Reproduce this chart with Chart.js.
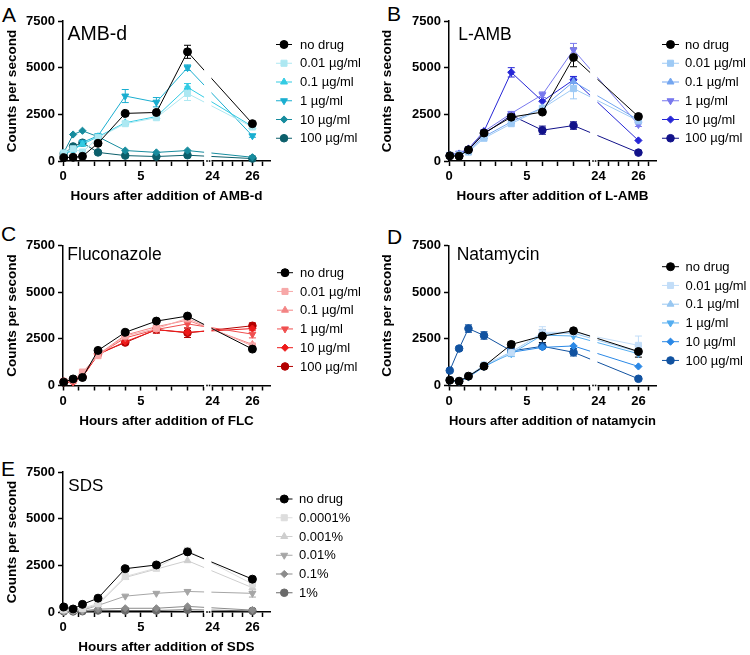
<!DOCTYPE html>
<html>
<head>
<meta charset="utf-8">
<script src="https://cdn.jsdelivr.net/npm/chart.js@4.4.1/dist/chart.umd.min.js"></script>
<style>
  body { margin: 0; background: #fff; width: 750px; height: 655px; position: relative; overflow: hidden;
         font-family: "Liberation Sans", Arial, sans-serif; }
  canvas { position: absolute; }
  .tag { position: absolute; font-size: 21px; line-height: 21px; color: #000; }
</style>
</head>
<body>
<div class="tag" style="left:2px;top:4px">A</div>
<div class="tag" style="left:387px;top:2.5px">B</div>
<div class="tag" style="left:1px;top:222.5px">C</div>
<div class="tag" style="left:387px;top:225.5px">D</div>
<div class="tag" style="left:1px;top:457.5px">E</div>

<canvas id="cE" width="375" height="235" style="left:0;top:420px"></canvas>
<canvas id="cA" width="375" height="210" style="left:0;top:0"></canvas>
<canvas id="cB" width="375" height="210" style="left:375px;top:0"></canvas>
<canvas id="cC" width="375" height="225" style="left:0;top:210px"></canvas>
<canvas id="cD" width="375" height="225" style="left:375px;top:210px"></canvas>

<script>
// ---- data ----
// sampling times in hours (same for every panel)
const hours = [0.05, 0.65, 1.25, 2.25, 4, 6, 8, 26];
const concLabels = ['no drug', '0.01 µg/ml', '0.1 µg/ml', '1 µg/ml', '10 µg/ml', '100 µg/ml'];
const sdsLabels = ['no drug', '0.0001%', '0.001%', '0.01%', '0.1%', '1%'];
const yTicks = [0, 2500, 5000, 7500];
const xTickHours = [0, 5, 24, 26];   // labelled ticks
const xMinorHours = [1, 2, 3, 4, 6, 7, 8, 9, 24.5, 25, 25.5, 26.5];

// counts per second, one row per series (no drug, then increasing dose)
const ambdValues = [
  [180, 200, 250, 950, 2550, 2600, 5850, 2000],
  [430, 650, 480, 1250, 2000, 2320, 3620, 1820],
  [400, 600, 900, 1300, 2050, 2380, 3950, 1850],
  [400, 550, 1000, 1350, 3480, 3150, 5000, 1350],
  [450, 1420, 1620, 1300, 560, 460, 560, 200],
  [380, 780, 980, 460, 290, 240, 310, 130]
];
const ambdSd = [
  [0, 0, 0, 80, 0, 0, 350, 80],
  [0, 0, 0, 0, 120, 100, 380, 100],
  [0, 0, 0, 0, 0, 0, 200, 0],
  [0, 0, 0, 0, 350, 250, 150, 80],
  [0, 0, 0, 0, 0, 0, 0, 0],
  [0, 0, 0, 0, 0, 0, 0, 0]
];

const lambValues = [
  [280, 260, 600, 1500, 2350, 2620, 5550, 2380],
  [300, 330, 480, 1220, 2000, 2820, 3880, 2150],
  [320, 350, 560, 1300, 2100, 2850, 4250, 2200],
  [350, 420, 650, 1580, 2550, 3550, 5950, 1950],
  [320, 400, 650, 1600, 4750, 3200, 4350, 1100],
  [280, 280, 600, 1450, 2450, 1650, 1900, 450]
];
const lambSd = [
  [0, 0, 0, 0, 0, 0, 500, 0],
  [0, 0, 0, 0, 0, 0, 550, 0],
  [0, 0, 0, 0, 0, 0, 250, 0],
  [0, 0, 0, 0, 0, 150, 350, 100],
  [0, 0, 0, 0, 250, 0, 180, 0],
  [0, 0, 0, 0, 0, 220, 200, 0]
];

const flcValues = [
  [180, 350, 430, 1880, 2850, 3450, 3720, 1950],
  [220, 300, 720, 1600, 2650, 3050, 3600, 2120],
  [180, 250, 620, 1650, 2700, 3150, 3500, 2200],
  [150, 180, 520, 1650, 2550, 3000, 3300, 2750],
  [180, 220, 460, 1650, 2350, 2980, 2850, 3050],
  [200, 260, 450, 1700, 2300, 3000, 2820, 3200]
];
const flcSd = [
  [0, 0, 0, 0, 0, 0, 0, 0],
  [0, 0, 0, 0, 0, 0, 100, 0],
  [0, 0, 0, 0, 0, 0, 0, 0],
  [0, 0, 0, 0, 0, 150, 200, 200],
  [0, 0, 0, 0, 0, 0, 0, 0],
  [0, 0, 0, 0, 0, 200, 250, 150]
];

const natValues = [
  [280, 230, 500, 1030, 2200, 2650, 2930, 1820],
  [300, 250, 520, 1100, 1750, 2850, 2850, 2150],
  [280, 230, 500, 1080, 1800, 2800, 2800, 1800],
  [270, 220, 480, 1050, 1700, 2700, 2650, 1700],
  [250, 200, 450, 1000, 1780, 2040, 2120, 1020],
  [800, 1980, 3050, 2680, 1850, 2100, 1780, 360]
];
const natSd = [
  [0, 0, 0, 0, 150, 350, 0, 300],
  [0, 0, 0, 0, 0, 300, 200, 500],
  [0, 0, 0, 0, 0, 0, 0, 0],
  [0, 0, 0, 0, 150, 0, 0, 0],
  [0, 0, 0, 0, 0, 0, 0, 0],
  [0, 100, 200, 200, 0, 0, 200, 0]
];

const sdsValues = [
  [270, 160, 410, 740, 2320, 2520, 3220, 1760],
  [120, 120, 200, 450, 1900, 2350, 3300, 1500],
  [80, 100, 150, 400, 1850, 2300, 2750, 1300],
  [50, 80, 100, 350, 850, 1000, 1100, 1000],
  [30, 50, 60, 150, 200, 200, 300, 100],
  [30, 30, 40, 80, 80, 80, 120, 60]
];
const sdsSd = [
  [0, 0, 0, 0, 0, 0, 0, 0],
  [0, 0, 0, 0, 0, 0, 150, 400],
  [0, 0, 0, 0, 0, 0, 0, 200],
  [0, 0, 0, 0, 0, 0, 0, 200],
  [0, 0, 0, 0, 0, 0, 0, 0],
  [0, 0, 0, 0, 0, 0, 0, 0]
];

// ---- styles ----
const ambdColors = ['#000000', '#ade8f2', '#33cbe3', '#1aaed0', '#178c9e', '#0c5f6b'];
const lambColors = ['#000000', '#9ecaf5', '#74a6f0', '#7878ee', '#2626d6', '#12128a'];
const flcColors  = ['#000000', '#f7a8a8', '#f38484', '#f04f4f', '#ee1a1a', '#b30000'];
const natColors  = ['#000000', '#c2ddf8', '#98c7f1', '#55aef0', '#2a88e6', '#1152a0'];
const sdsColors  = ['#000000', '#dddddd', '#cecece', '#a6a6a6', '#8b8b8b', '#6a6a6a'];
const markers = [
  {style: 'circle', rot: 0, r: 4},
  {style: 'rect', rot: 0, r: 4.3},
  {style: 'triangle', rot: 0, r: 4},
  {style: 'triangle', rot: 180, r: 4},
  {style: 'rectRot', rot: 0, r: 3.6},
  {style: 'circle', rot: 0, r: 3.8}
];

// x axis has a break between 9 h and 24 h
const BREAK_AT = 9, RESUME = 24, GAP_POS = 9.6, RIGHT_K = 1.285, X_END = 13.3;
function toAxis(h) { return h <= BREAK_AT ? h : GAP_POS + (h - RESUME) * RIGHT_K; }

const FONT = '"Liberation Sans", Arial, sans-serif';
Chart.defaults.font.family = FONT;
Chart.defaults.color = '#000';

// error bars under the markers
const errorBars = {
  id: 'errorBars',
  beforeDatasetsDraw(chart) {
    const ctx = chart.ctx, xs = chart.scales.x, ys = chart.scales.y;
    ctx.save();
    chart.data.datasets.forEach(ds => {
      ctx.strokeStyle = ds.borderColor;
      ctx.lineWidth = 1;
      ds.sd.forEach((e, i) => {
        if (!e) return;
        const x = xs.getPixelForValue(toAxis(hours[i]));
        const y1 = ys.getPixelForValue(ds.data[i].y + e), y2 = ys.getPixelForValue(ds.data[i].y - e);
        ctx.beginPath();
        ctx.moveTo(x, y1); ctx.lineTo(x, y2);
        ctx.moveTo(x - 3.5, y1); ctx.lineTo(x + 3.5, y1);
        ctx.moveTo(x - 3.5, y2); ctx.lineTo(x + 3.5, y2);
        ctx.stroke();
      });
    });
    ctx.restore();
  }
};

// axis break, panel title and legend
const decorations = {
  id: 'decorations',
  afterDatasetsDraw(chart, args, opts) {
    const ctx = chart.ctx, xs = chart.scales.x, ys = chart.scales.y;
    const y0 = ys.getPixelForValue(0);
    const a = xs.getPixelForValue(BREAK_AT) + 1, b = xs.getPixelForValue(GAP_POS) - 1;
    ctx.save();
    ctx.fillStyle = '#fff';
    ctx.fillRect(a, chart.chartArea.top - 12, b - a, y0 + 1.6 - (chart.chartArea.top - 12));
    ctx.fillStyle = '#000';
    [0.4, 0.75].forEach(f => ctx.fillRect(a + (b - a) * f - 0.8, y0 - 0.8, 1.6, 1.6));

    ctx.font = opts.titleSize + 'px ' + FONT;
    ctx.textBaseline = 'alphabetic';
    ctx.fillText(opts.title, opts.titleX, opts.titleY);

    const lg = opts.legend;
    ctx.font = '13px ' + FONT;
    ctx.textBaseline = 'middle';
    chart.data.datasets.forEach((ds, i) => {
      const y = lg.top + i * 18.75;
      ctx.strokeStyle = ds.borderColor;
      ctx.fillStyle = ds.borderColor;
      ctx.lineWidth = 1;
      ctx.beginPath(); ctx.moveTo(lg.x0, y); ctx.lineTo(lg.x1, y); ctx.stroke();
      Chart.helpers.drawPoint(ctx, {pointStyle: ds.pointStyle, rotation: ds.pointRotation,
        radius: ds.pointRadius, borderWidth: 1}, (lg.x0 + lg.x1) / 2, y);
      ctx.fillStyle = '#000';
      ctx.fillText(ds.label, lg.tx, y + 0.5);
    });
    ctx.restore();
  }
};

const panels = [
  {id: 'cA', w: 375, h: 210, area: [63, 21, 270, 161], title: 'AMB-d', tx: 67.5, ty: 39.5, ts: 19.5,
   xTitle: 'Hours after addition of AMB-d', values: ambdValues, sd: ambdSd, colors: ambdColors,
   labels: concLabels, legend: {x0: 276, x1: 292, tx: 300, top: 44.5}, xtPad: 6},
  {id: 'cB', w: 375, h: 210, area: [74, 21, 281, 161], title: 'L-AMB', tx: 83.3, ty: 39.5, ts: 17.5,
   xTitle: 'Hours after addition of L-AMB', values: lambValues, sd: lambSd, colors: lambColors,
   labels: concLabels, legend: {x0: 287, x1: 304, tx: 310, top: 44.5}, xtPad: 6},
  {id: 'cC', w: 375, h: 225, area: [63, 35.5, 270, 175.5], title: 'Fluconazole', tx: 67.3, ty: 50, ts: 17.5,
   xTitle: 'Hours after addition of FLC', values: flcValues, sd: flcSd, colors: flcColors,
   labels: concLabels, legend: {x0: 277, x1: 293, tx: 300, top: 62.7}, xtPad: 6},
  {id: 'cD', w: 375, h: 225, area: [74, 35.5, 281, 175.5], title: 'Natamycin', tx: 81.7, ty: 50, ts: 17.5,
   xTitle: 'Hours after addition of natamycin', values: natValues, sd: natSd, colors: natColors,
   labels: concLabels, legend: {x0: 287, x1: 304, tx: 310.5, top: 56.7}, xtPad: 6},
  {id: 'cE', w: 375, h: 235, area: [63, 52, 270, 192], title: 'SDS', tx: 68.3, ty: 70.7, ts: 17,
   xTitle: 'Hours after addition of SDS', values: sdsValues, sd: sdsSd, colors: sdsColors,
   labels: sdsLabels, legend: {x0: 276, x1: 292.5, tx: 299, top: 79}, xtPad: 0}
];

const tickFont = {family: FONT, size: 13, weight: 'bold'};
const titleFont = {family: FONT, size: 13.5, weight: 'bold'};

panels.forEach(p => {
  const [L, T, R, B] = p.area;
  const datasets = p.values.map((row, k) => ({
    label: p.labels[k],
    data: row.map((v, i) => ({x: toAxis(hours[i]), y: v})),
    sd: p.sd[k],
    borderColor: p.colors[k],
    backgroundColor: p.colors[k],
    pointBackgroundColor: p.colors[k],
    pointBorderColor: p.colors[k],
    borderWidth: 1,
    pointBorderWidth: 1,
    pointStyle: markers[k].style,
    pointRotation: markers[k].rot,
    pointRadius: markers[k].r,
    tension: 0,
    clip: false
  }));

  new Chart(document.getElementById(p.id), {
    type: 'line',
    data: {datasets},
    plugins: [errorBars, decorations],
    options: {
      responsive: false,
      animation: false,
      events: [],
      layout: {padding: {top: T, right: p.w - R, left: 0, bottom: 0}},
      plugins: {
        legend: {display: false},
        tooltip: {enabled: false},
        decorations: {title: p.title, titleX: p.tx, titleY: p.ty, titleSize: p.ts, legend: p.legend}
      },
      scales: {
        x: {
          type: 'linear', min: 0, max: X_END,
          afterFit: s => { s.height = p.h - B; },
          afterBuildTicks: s => {
            s.ticks = xTickHours.concat(xMinorHours).map(h => ({value: toAxis(h)}));
          },
          ticks: {
            autoSkip: false, maxRotation: 0, padding: 3, font: tickFont, color: '#000',
            callback: v => {
              const i = xTickHours.findIndex(h => Math.abs(toAxis(h) - v) < 1e-6);
              return i < 0 ? '' : String(xTickHours[i]);
            }
          },
          grid: {drawOnChartArea: false, drawTicks: true, tickLength: 5, tickColor: '#000', tickWidth: 1.5},
          border: {color: '#000', width: 1.5},
          title: {display: true, text: p.xTitle, color: '#000', font: titleFont, padding: {top: 0, bottom: p.xtPad}}
        },
        y: {
          min: 0, max: 7500,
          afterFit: s => { s.width = L; },
          afterBuildTicks: s => { s.ticks = yTicks.map(v => ({value: v})); },
          ticks: {padding: 3, font: tickFont, color: '#000', callback: v => String(v)},
          grid: {drawOnChartArea: false, drawTicks: true, tickLength: 5, tickColor: '#000', tickWidth: 1.5},
          border: {color: '#000', width: 1.5},
          title: {display: true, text: 'Counts per second', color: '#000', font: titleFont, padding: {top: 4, bottom: 0}}
        }
      }
    }
  });
});
</script>
</body>
</html>
